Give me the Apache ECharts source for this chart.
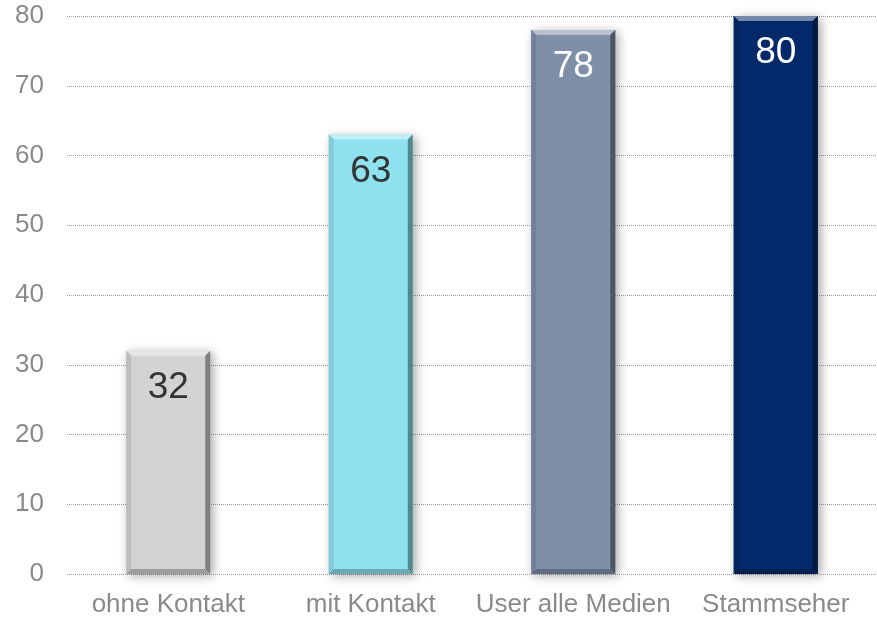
<!DOCTYPE html>
<html>
<head>
<meta charset="utf-8">
<style>
html, body { margin:0; padding:0; background:#fff; }
#chart { width:877px; height:619px; }
</style>
<script src="https://cdn.jsdelivr.net/npm/echarts@6/dist/echarts.min.js"></script>
</head>
<body>
<div id="chart"></div>
<script>
const categories = ['ohne Kontakt', 'mit Kontakt', 'User alle Medien', 'Stammseher'];
const values = [32, 63, 78, 80];
const barColors = ['#d3d3d3', '#8fe1ef', '#7f8faa', '#04296a'];
const labelColors = ['#333333', '#333333', '#ffffff', '#ffffff'];

// mix a hex colour towards another
function mix(hex, target, t) {
  const a = echarts.color.parse(hex), b = echarts.color.parse(target);
  const c = [0, 1, 2].map(i => Math.round(a[i] + (b[i] - a[i]) * t));
  return 'rgb(' + c.join(',') + ')';
}

function renderBar(params, api) {
  const idx = params.dataIndex;
  const v = api.value(1);
  const top = api.coord([api.value(0), v]);
  const base = api.coord([api.value(0), 0]);
  const w = api.size([1, 0])[0] * 0.415;
  const x0 = top[0] - w / 2, x1 = top[0] + w / 2;
  const y0 = top[1], y1 = base[1];
  const b = 5;
  const col = barColors[idx];
  const poly = (pts, fill) => ({ type: 'polygon', shape: { points: pts }, style: { fill: fill } });
  return {
    type: 'group',
    children: [
      { type: 'rect', shape: { x: x0, y: y0, width: w, height: y1 - y0 },
        style: { fill: col, shadowBlur: 10, shadowOffsetX: 3, shadowOffsetY: 2, shadowColor: 'rgba(0,0,0,0.35)' } },
      poly([[x0, y0], [x1, y0], [x1 - b, y0 + b], [x0 + b, y0 + b]], mix(col, '#ffffff', 0.45)),
      poly([[x0, y0], [x0 + b, y0 + b], [x0 + b, y1 - b], [x0, y1]], mix(col, '#000000', 0.1)),
      poly([[x1, y0], [x1, y1], [x1 - b, y1 - b], [x1 - b, y0 + b]], mix(col, '#000000', 0.4)),
      poly([[x0, y1], [x0 + b, y1 - b], [x1 - b, y1 - b], [x1, y1]], mix(col, '#000000', 0.25)),
      { type: 'text', style: { text: String(v), x: top[0], y: y0 + 37, align: 'center', verticalAlign: 'middle',
        fontSize: 37, fontFamily: 'Liberation Sans, Arial, sans-serif', fill: labelColors[idx] } }
    ]
  };
}

const chart = echarts.init(document.getElementById('chart'));
chart.setOption({
  animation: false,
  textStyle: { fontFamily: 'Liberation Sans, Arial, sans-serif' },
  grid: { left: 67, right: -6, top: 16, bottom: 45 },
  xAxis: {
    type: 'category',
    data: categories,
    axisLine: { show: false },
    axisTick: { show: false },
    axisLabel: { color: '#8a8a8a', fontSize: 26, margin: 18, interval: 0 }
  },
  yAxis: {
    type: 'value',
    min: 0, max: 80, interval: 10,
    axisLine: { show: false },
    axisTick: { show: false },
    axisLabel: { color: '#8a8a8a', fontSize: 26, margin: 23 },
    splitLine: { lineStyle: { color: '#9a9a9a', type: [1, 1], width: 1 } }
  },
  series: [{
    type: 'custom',
    renderItem: renderBar,
    data: values.map((v, i) => [i, v])
  }]
});
</script>
</body>
</html>
